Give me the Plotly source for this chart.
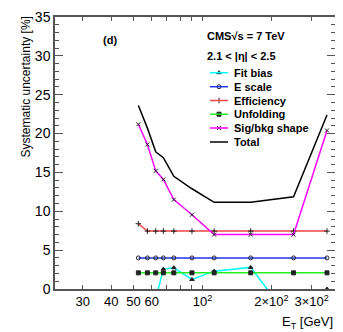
import plotly.graph_objects as go

# bin centres of E_T [GeV]
et = [52.5, 57.5, 62.5, 67.5, 75, 90, 112.5, 162.5, 250, 350]

fit_bias = [-2.0, -1.6, -1.3, 2.56, 2.73, 1.23, 2.3, 2.78, -4.5, 0.0]
e_scale = [4.0, 4.0, 4.0, 4.0, 4.0, 4.0, 4.0, 4.0, 4.0, 4.0]
efficiency = [8.4, 7.45, 7.45, 7.45, 7.45, 7.45, 7.45, 7.45, 7.45, 7.45]
unfolding = [2.08, 2.08, 2.08, 2.08, 2.08, 2.08, 2.08, 2.08, 2.08, 2.08]
sig_bkg = [21.2, 18.6, 15.2, 14.1, 11.5, 9.55, 7.0, 7.0, 7.0, 20.4]
total = [23.6, 20.7, 17.65, 16.9, 14.5, 12.9, 11.15, 11.15, 11.87, 22.4]

x_ticks = [30, 40, 50, 60, 100, 200, 300]
x_ticktext = ["30", "40", "50", "60", "10<sup>2</sup>", "2×10<sup>2</sup>", "3×10<sup>2</sup>"]

series = [
    ("Fit bias", fit_bias, "#00ffff", "triangle-up"),
    ("E scale", e_scale, "#2233ee", "circle-open"),
    ("Efficiency", efficiency, "#f04545", "cross-thin-open"),
    ("Unfolding", unfolding, "#22ee22", "square"),
    ("Sig/bkg shape", sig_bkg, "#ff00ff", "x-thin-open"),
    ("Total", total, "black", None),
]

# page has an 8px body margin, so the figure is shrunk by that much
OFF = 8
W, H = 335, 324
L, R, T, B = 47, 8, 9, 43
XR = [1.356, 2.579]
YR = [0, 35]
PW, PH = W - L - R, H - T - B


def paper_x(px):
    return (px - OFF - L) / PW


def paper_y(py):
    return (H - B - (py - OFF)) / PH


def data_x(px):
    return 10 ** (XR[0] + paper_x(px) * (XR[1] - XR[0]))


def data_y(py):
    return YR[0] + paper_y(py) * (YR[1] - YR[0])


fig = go.Figure()
for name, vals, col, sym in series:
    if sym:
        fig.add_trace(go.Scatter(
            x=et, y=vals, name=name, mode="lines+markers",
            line=dict(color=col, width=1.5),
            marker=dict(symbol=sym, size=4, color="#222",
                        line=dict(color="#222", width=1)),
        ))
    else:
        fig.add_trace(go.Scatter(x=et, y=vals, name=name, mode="lines",
                                 line=dict(color=col, width=1.5)))

# legend drawn by hand (ROOT-style compact rows)
row_y = [72.7, 86.7, 100.5, 114.2, 128.0, 142.0]
for (name, vals, col, sym), ry in zip(series, row_y):
    fig.add_shape(type="line", xref="paper", yref="paper",
                  x0=paper_x(210), x1=paper_x(228), y0=paper_y(ry), y1=paper_y(ry),
                  line=dict(color=col, width=1.5))
    if sym:
        fig.add_trace(go.Scatter(x=[data_x(219)], y=[data_y(ry)], mode="markers",
                                 showlegend=False, hoverinfo="skip",
                                 marker=dict(symbol=sym, size=4, color="#222",
                                             line=dict(color="#222", width=1))))
    fig.add_annotation(text="<b>%s</b>" % name, xref="paper", yref="paper",
                       x=paper_x(232), y=paper_y(ry), xanchor="left", yanchor="middle",
                       showarrow=False, font=dict(size=11))

font = "Liberation Sans, Arial, sans-serif"
fig.update_layout(
    width=W, height=H, autosize=False,
    margin=dict(l=L, r=R, t=T, b=B, pad=0),
    paper_bgcolor="white", plot_bgcolor="white",
    font=dict(family=font, color="black"),
    showlegend=False,
    xaxis=dict(type="log", range=XR, automargin=False,
               tickvals=x_ticks, ticktext=x_ticktext,
               ticks="inside", ticklen=4, tickcolor="#555",
               showline=True, linecolor="#555", linewidth=1.5, mirror="ticks",
               showgrid=False, zeroline=False,
               tickfont=dict(size=13),
               minor=dict(tickvals=[70, 80, 90], ticks="inside", ticklen=4, tickcolor="#555")),
    yaxis=dict(range=YR, tickvals=[0, 5, 10, 15, 20, 25, 30, 35], automargin=False,
               ticks="inside", ticklen=8, tickcolor="#555",
               showline=True, linecolor="#555", linewidth=1.5, mirror="ticks",
               showgrid=False, zeroline=False,
               tickfont=dict(size=14),
               minor=dict(dtick=1, ticks="inside", ticklen=4, tickcolor="#555")),
)

fig.add_annotation(text="Systematic uncertainty [%]", textangle=-90,
                   xref="paper", yref="paper", x=paper_x(25), y=paper_y(15),
                   xanchor="center", yanchor="top", showarrow=False,
                   font=dict(size=12))
fig.add_annotation(text="E<sub>T</sub> [GeV]", xref="paper", yref="paper",
                   x=1.0, y=paper_y(312), xanchor="right", yanchor="top",
                   showarrow=False, font=dict(size=13))
fig.add_annotation(text="<b>(d)</b>", xref="paper", yref="paper",
                   x=paper_x(101), y=paper_y(40), xanchor="left", yanchor="middle",
                   showarrow=False, font=dict(size=11))
fig.add_annotation(text="<b>CMS√s = 7 TeV</b>", xref="paper", yref="paper",
                   x=paper_x(205), y=paper_y(36), xanchor="left", yanchor="middle",
                   showarrow=False, font=dict(size=11))
fig.add_annotation(text="<b>2.1 < |η| < 2.5</b>", xref="paper", yref="paper",
                   x=paper_x(205), y=paper_y(56), xanchor="left", yanchor="middle",
                   showarrow=False, font=dict(size=11))

fig.write_html("out.html")
